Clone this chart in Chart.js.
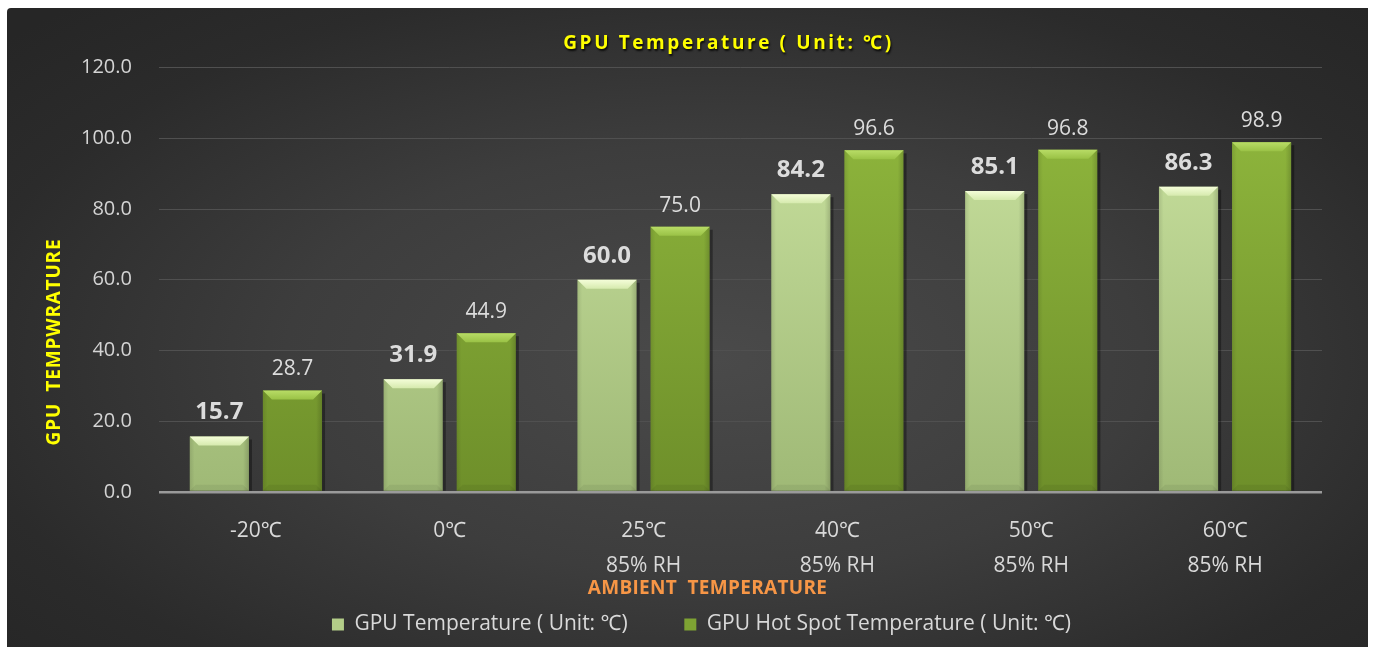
<!DOCTYPE html>
<html>
<head>
<meta charset="utf-8">
<script src="https://cdn.jsdelivr.net/npm/chart.js@4.4.1/dist/chart.umd.min.js"></script>
<style>
    html, body { margin: 0; padding: 0; background: #fff; }
    #wrap { position: relative; width: 1375px; height: 648px; }
    #panel {
        position: absolute; left: 7px; top: 8px; width: 1361px; height: 639px;
        border-radius: 4px 0 0 0;
        background: radial-gradient(ellipse 70% 75% at 52% 55%, #4a4a4a 0%, #3d3d3d 45%, #2b2b2b 80%, #262626 100%);
    }
    canvas { position: absolute; left: 0; top: 0; }
</style>
</head>
<body>
<div id="wrap">
    <div id="panel"></div>
    <canvas id="gpu-temp-chart" width="1375" height="648"></canvas>
</div>
<script>
const categories = ['-20℃', '0℃', ['25℃', '85% RH'], ['40℃', '85% RH'], ['50℃', '85% RH'], ['60℃', '85% RH']];
const gpuTemp = [15.7, 31.9, 60.0, 84.2, 85.1, 86.3];
const hotSpotTemp = [28.7, 44.9, 75.0, 96.6, 96.8, 98.9];
const seriesNames = ['GPU Temperature ( Unit: ℃)', 'GPU Hot Spot Temperature ( Unit: ℃)'];
const chartTitle = 'GPU Temperature ( Unit: ℃)';
const yTitle = 'GPU  TEMPWRATURE';
const xTitle = 'AMBIENT  TEMPERATURE';

const FONT = "'Open Sans', 'Noto Sans', sans-serif";

// colours for the two bar series
const looks = [
    { top: '#cde5a3', bottom: '#9fb976', bevel1: '#f4fdd8', bevel2: '#d6eaae', legend: '#b3cd88',
      label: { size: 24, weight: 'bold', gap: 17 } },
    { top: '#93bb3f', bottom: '#6e8f2a', bevel1: '#b8dc66', bevel2: '#9ac246', legend: '#7ea333',
      label: { size: 21, weight: 'normal', gap: 15 } }
];

const gradCache = {};
const barFill = (i) => (context) => {
    const area = context.chart.chartArea;
    if (!area) return looks[i].top;
    const key = i + ':' + area.top + ':' + area.bottom;
    if (!gradCache[key]) {
        const g = context.chart.ctx.createLinearGradient(0, area.top, 0, area.bottom);
        g.addColorStop(0, looks[i].top);
        g.addColorStop(1, looks[i].bottom);
        gradCache[key] = g;
    }
    return gradCache[key];
};

const barBevel = {
    id: 'barBevel',
    afterDatasetsDraw(chart) {
        const ctx = chart.ctx;
        chart.data.datasets.forEach((ds, i) => {
            const look = looks[i];
            chart.getDatasetMeta(i).data.forEach((bar, j) => {
                const { x, y, base, width } = bar.getProps(['x', 'y', 'base', 'width'], true);
                const l = x - width / 2, r = x + width / 2, h = base - y;
                const b = Math.min(9, h / 2);
                ctx.save();
                // shadow on right
                ctx.fillStyle = 'rgba(0,0,0,0.35)';
                ctx.fillRect(r, y + 3, 3, h - 3);
                // side shading
                let g = ctx.createLinearGradient(l, 0, r, 0);
                g.addColorStop(0, 'rgba(0,0,0,0.10)');
                g.addColorStop(0.08, 'rgba(0,0,0,0)');
                g.addColorStop(0.9, 'rgba(0,0,0,0)');
                g.addColorStop(1, 'rgba(0,0,0,0.16)');
                ctx.fillStyle = g;
                ctx.fillRect(l, y, width, h);
                // bottom bevel
                ctx.beginPath();
                ctx.moveTo(l, base); ctx.lineTo(r, base);
                ctx.lineTo(r - 6, base - 6); ctx.lineTo(l + 6, base - 6);
                ctx.closePath();
                ctx.fillStyle = 'rgba(0,0,0,0.06)';
                ctx.fill();
                // top bevel
                ctx.beginPath();
                ctx.moveTo(l, y); ctx.lineTo(r, y);
                ctx.lineTo(r - b, y + b); ctx.lineTo(l + b, y + b);
                ctx.closePath();
                g = ctx.createLinearGradient(0, y, 0, y + b);
                g.addColorStop(0, look.bevel1);
                g.addColorStop(1, look.bevel2);
                ctx.fillStyle = g;
                ctx.fill();
                // value label
                ctx.font = `${look.label.weight} ${look.label.size}px ${FONT}`;
                ctx.fillStyle = '#dcdcdc';
                ctx.textAlign = 'center';
                ctx.textBaseline = 'alphabetic';
                ctx.fillText(ds.data[j].toFixed(1), x, y - look.label.gap);
                ctx.restore();
            });
        });
    },
    afterDraw(chart) {
        const ctx = chart.ctx;
        const area = chart.chartArea;
        ctx.save();
        // chart title
        ctx.font = `bold 19px ${FONT}`;
        ctx.letterSpacing = '2.6px';
        ctx.fillStyle = '#ffff00';
        ctx.textAlign = 'center';
        ctx.textBaseline = 'middle';
        ctx.shadowColor = 'rgba(0,0,0,0.8)';
        ctx.shadowOffsetX = 1;
        ctx.shadowOffsetY = 2;
        ctx.shadowBlur = 2;
        ctx.fillText(chartTitle, (area.left + area.right) / 2 - 12, area.top - 24);
        ctx.restore();

        // y axis title
        ctx.save();
        ctx.font = `bold 19px ${FONT}`;
        ctx.letterSpacing = '0.8px';
        ctx.fillStyle = '#ffff00';
        ctx.textAlign = 'center';
        ctx.textBaseline = 'middle';
        ctx.translate(area.left - 104, area.bottom - 150);
        ctx.rotate(-Math.PI / 2);
        ctx.fillText(yTitle, 0, 0);
        ctx.restore();

        // x axis title
        ctx.save();
        ctx.font = `bold 19px ${FONT}`;
        ctx.letterSpacing = '0.3px';
        ctx.fillStyle = '#f79646';
        ctx.textAlign = 'center';
        ctx.textBaseline = 'middle';
        ctx.fillText(xTitle, (area.left + area.right) / 2 - 33, area.bottom + 97);
        ctx.restore();
    }
};

const config = {
    type: 'bar',
    data: {
        labels: categories,
        datasets: [{
            label: seriesNames[0],
            data: gpuTemp,
            backgroundColor: barFill(0),
            categoryPercentage: 0.754,
            barPercentage: 0.81
        }, {
            label: seriesNames[1],
            data: hotSpotTemp,
            backgroundColor: barFill(1),
            categoryPercentage: 0.754,
            barPercentage: 0.81
        }]
    },
    options: {
        responsive: false,
        animation: false,
        layout: { padding: { left: 81, right: 53, top: 0, bottom: 3 } },
        plugins: {
            title: {
                display: true,
                text: chartTitle,
                color: 'transparent',
                font: { family: FONT, size: 18, weight: 'bold', lineHeight: 1.2 },
                padding: { top: 32, bottom: 14 }
            },
            legend: {
                position: 'bottom',
                labels: {
                    color: '#d9d9d9',
                    font: { family: FONT, size: 21 },
                    boxWidth: 12,
                    boxHeight: 12,
                    padding: 13,
                    generateLabels: (chart) => {
                        const items = Chart.defaults.plugins.legend.labels.generateLabels(chart);
                        items.forEach((it, i) => {
                            it.fillStyle = looks[i].legend;
                            it.strokeStyle = looks[i].legend;
                            it.lineWidth = 0;
                            if (i === 0) it.text += '        ';
                        });
                        return items;
                    }
                }
            },
            tooltip: { enabled: false }
        },
        scales: {
            x: {
                grid: { display: false },
                border: { display: false },
                ticks: {
                    color: '#d9d9d9',
                    font: { family: FONT, size: 21, lineHeight: 1.667 },
                    padding: 14,
                    maxRotation: 0
                },
                // invisible spacer; the visible axis title is drawn by the plugin
                title: {
                    display: true,
                    text: ' ',
                    color: 'transparent',
                    font: { family: FONT, size: 3, lineHeight: 1 },
                    padding: 0
                }
            },
            y: {
                min: 0,
                max: 120,
                border: { display: false },
                grid: {
                    drawTicks: true,
                    tickLength: 27,
                    tickColor: 'transparent',
                    color: (c) => c.tick && c.tick.value === 0 ? '#9a9a9a' : '#505050',
                    lineWidth: (c) => c.tick && c.tick.value === 0 ? 2.5 : 1
                },
                ticks: {
                    stepSize: 20,
                    color: '#d4d4d4',
                    font: { family: FONT, size: 20 },
                    padding: 0,
                    callback: (v) => v.toFixed(1)
                },
                title: { display: false }
            }
        }
    },
    plugins: [barBevel]
};

const ctx = document.getElementById('gpu-temp-chart').getContext('2d');
new Chart(ctx, config);
</script>
</body>
</html>
